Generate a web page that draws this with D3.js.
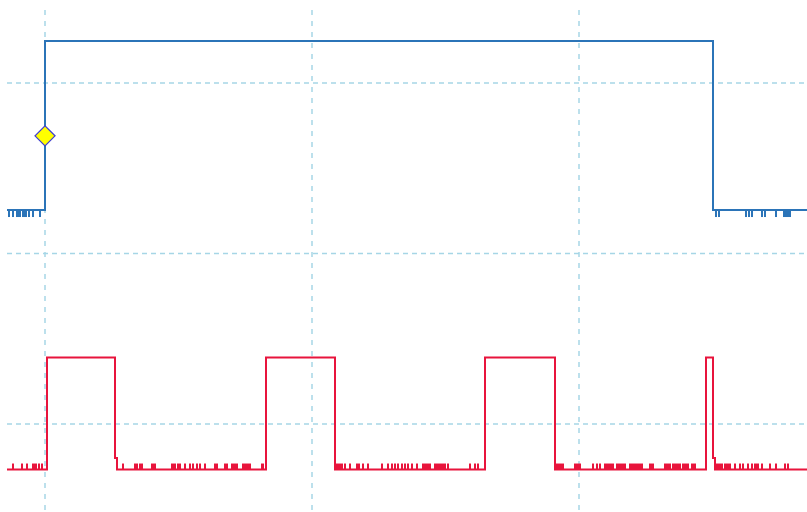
<!DOCTYPE html>
<html>
<head>
<meta charset="utf-8">
<script src="https://cdn.jsdelivr.net/npm/d3@7"></script>
<style>
  html, body { margin: 0; padding: 0; background: #ffffff; }
  svg { display: block; }
</style>
</head>
<body>
<div id="scope_div"></div>
<script>
// time in samples (267 samples per division), level in divisions
var sampleDomain = [-45, 762];
var gridTimes = [0, 267, 534];
var gridLevels = [1, 0, -1];

// channel 1 (blue) step trace
var ch1Times  = [-38, 0, 0, 668, 668, 762];
var ch1Levels = [0.255, 0.255, 1.246, 1.246, 0.255, 0.255];
// glitch marks on channel 1: [start, end]
var ch1Glitches = [[-36, -36], [-32, -32], [-28, -25], [-22, -19], [-16, -16], [-12, -12], [-5, -5],
                   [671, 671], [674, 674], [701, 701], [704, 704], [707, 707], [717, 717], [720, 720],
                   [731, 731], [739, 741], [743, 745]];

// channel 2 (red) step trace
var ch2Times  = [-38, 2, 2, 70, 70, 72, 72, 221, 221, 290, 290, 440, 440, 510, 510, 661, 661, 668, 668, 670, 670, 762];
var ch2Levels = [-1.267, -1.267, -0.61, -0.61, -1.199, -1.199, -1.267, -1.267, -0.61, -0.61, -1.267, -1.267,
                 -0.61, -0.61, -1.267, -1.267, -0.61, -0.61, -1.199, -1.199, -1.267, -1.267];
var ch2Glitches = [[-32, -32], [-23, -23], [-18, -18], [-12, -9], [-6, -6], [-3, -3],
                   [78, 78], [90, 92], [95, 97], [107, 110], [127, 130], [133, 135], [140, 140], [145, 145],
                   [148, 148], [152, 152], [155, 155], [160, 160], [170, 172], [180, 182], [187, 192],
                   [198, 205], [217, 218],
                   [292, 297], [300, 300], [305, 305], [312, 314], [318, 318], [323, 323], [337, 337],
                   [343, 343], [347, 347], [350, 350], [353, 353], [357, 357], [360, 360], [363, 363],
                   [367, 367], [372, 372], [378, 385], [390, 395], [397, 400], [403, 403], [425, 425],
                   [430, 430], [433, 433],
                   [512, 518], [530, 535], [548, 548], [552, 552], [555, 555], [560, 568], [572, 580],
                   [585, 597], [605, 608], [620, 625], [628, 635], [638, 643], [647, 650],
                   [670, 677], [680, 685], [690, 690], [695, 695], [698, 698], [703, 703],
                   [707, 707], [710, 713], [717, 717], [725, 725], [731, 731], [740, 740], [743, 743]];

// trigger marker on channel 1
var triggerTime = [0];
var triggerLevel = [0.69];

var width = 807;
var height = 512;

var svg = d3.select('#scope_div')
    .append('svg')
    .attr('width', width)
    .attr('height', height);

var x = d3.scaleLinear().domain(sampleDomain).range([0, width]);
var y = d3.scaleLinear().domain([1, -1]).range([83, 424]);

// dashed grid
svg.append('g')
    .selectAll('line')
    .data(gridTimes)
    .enter()
    .append('line')
    .attr('x1', function(d) { return x(d); })
    .attr('x2', function(d) { return x(d); })
    .attr('y1', 10)
    .attr('y2', height)
    .attr('stroke', '#a6d6e6')
    .attr('stroke-width', 1.5)
    .attr('stroke-dasharray', '5,6');

svg.append('g')
    .selectAll('line')
    .data(gridLevels)
    .enter()
    .append('line')
    .attr('x1', 7)
    .attr('x2', width)
    .attr('y1', function(d) { return y(d); })
    .attr('y2', function(d) { return y(d); })
    .attr('stroke', '#a6d6e6')
    .attr('stroke-width', 1.5)
    .attr('stroke-dasharray', '5,4');

function draw_channel(times, levels, glitches, color, tickLen) {
    var pts = times.map(function(t, i) { return [t, levels[i]]; });
    var line = d3.line()
        .x(function(d) { return x(d[0]); })
        .y(function(d) { return y(d[1]); });

    var lowLevel = d3.min(levels);
    var g = svg.append('g');

    g.selectAll('rect')
        .data(glitches)
        .enter()
        .append('rect')
        .attr('x', function(d) { return x(d[0]) - 1; })
        .attr('width', function(d) { return x(d[1]) - x(d[0]) + 2; })
        .attr('y', tickLen > 0 ? y(lowLevel) : y(lowLevel) + tickLen)
        .attr('height', Math.abs(tickLen))
        .attr('fill', color);

    g.append('path')
        .datum(pts)
        .attr('d', line)
        .attr('fill', 'none')
        .attr('stroke', color)
        .attr('stroke-width', 2);
}

draw_channel(ch1Times, ch1Levels, ch1Glitches, '#2b74b8', 7);
draw_channel(ch2Times, ch2Levels, ch2Glitches, '#e8143c', -6);

// trigger diamond
svg.append('g')
    .selectAll('path')
    .data(triggerTime)
    .enter()
    .append('path')
    .attr('d', function(d, i) {
        var cx = x(d), cy = y(triggerLevel[i]);
        return 'M' + (cx - 10) + ',' + cy + 'L' + cx + ',' + (cy - 10) +
               'L' + (cx + 10) + ',' + cy + 'L' + cx + ',' + (cy + 10) + 'Z';
    })
    .attr('fill', '#ffff00')
    .attr('stroke', '#3f3fd0')
    .attr('stroke-width', 1.3);
</script>
</body>
</html>
